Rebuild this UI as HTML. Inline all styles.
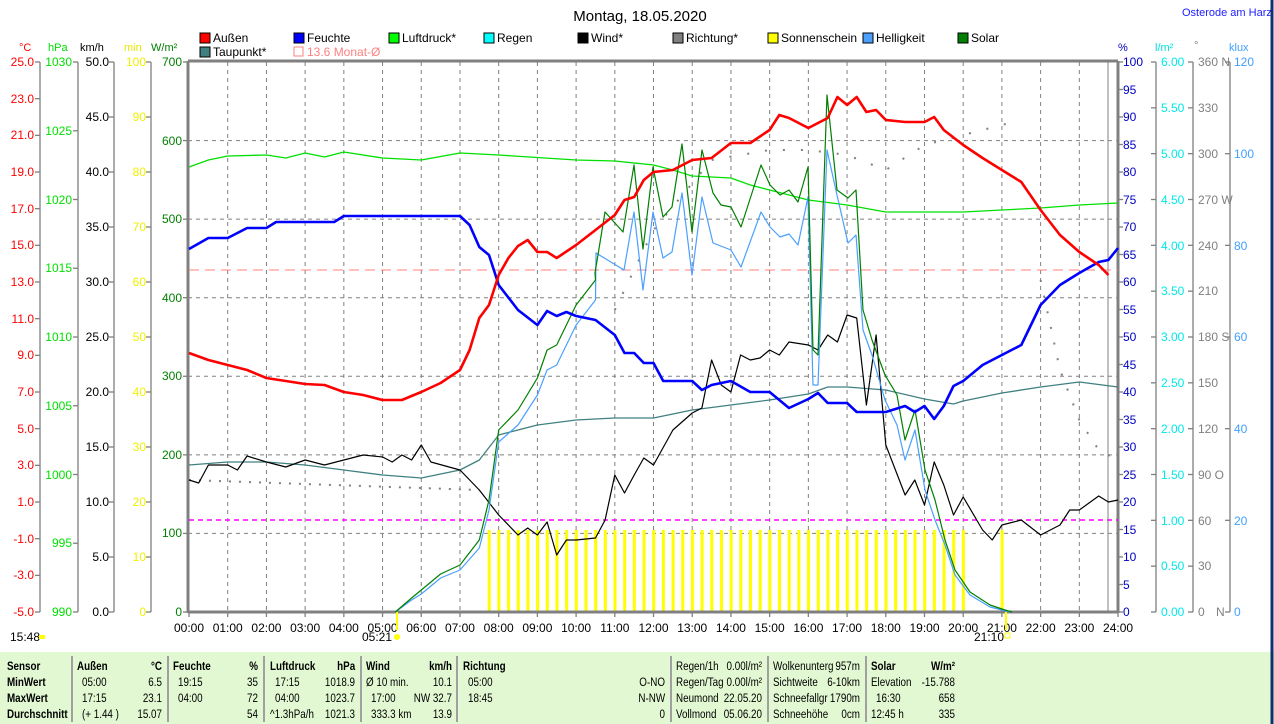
<!DOCTYPE html>
<html><head><meta charset="utf-8">
<style>
html,body{margin:0;padding:0;background:#fff;}
body{width:1274px;height:724px;overflow:hidden;position:relative;font-family:"Liberation Sans",sans-serif;}
svg{position:absolute;left:0;top:0;}
text{font-family:"Liberation Sans",sans-serif;font-size:12px;}
.tb{position:absolute;left:0;top:652px;width:1274px;height:72px;background:#e2f8d2;}
.tt text{font-size:12px;transform-box:fill-box;transform-origin:0% 50%;transform:scaleX(0.82);}
.tt text[text-anchor="end"]{transform-origin:100% 50%;}
</style></head><body>
<div class="tb"></div>
<svg id="s" width="1274" height="724" viewBox="0 0 1274 724">
<g id="grid" stroke="#808080" stroke-dasharray="4,4" stroke-width="1"></g>
<g id="bars" fill="#ffff00"></g>
<text x="640" y="21" text-anchor="middle" style="font-size:15px">Montag, 18.05.2020</text>
<text x="1182" y="16" fill="#2020ff" style="font-size:11px">Osterode am Harz</text>
<g style="font-size:11px">
<rect x="200" y="33" width="10" height="10" fill="#ff0000" stroke="#000"/><text x="213" y="42">Außen</text>
<rect x="294" y="33" width="10" height="10" fill="#0000ff" stroke="#000"/><text x="307" y="42">Feuchte</text>
<rect x="389" y="33" width="10" height="10" fill="#00ff00" stroke="#000"/><text x="402" y="42">Luftdruck*</text>
<rect x="484" y="33" width="10" height="10" fill="#00ffff" stroke="#000"/><text x="497" y="42">Regen</text>
<rect x="578" y="33" width="10" height="10" fill="#000" stroke="#000"/><text x="591" y="42">Wind*</text>
<rect x="673" y="33" width="10" height="10" fill="#808080" stroke="#000"/><text x="686" y="42">Richtung*</text>
<rect x="768" y="33" width="10" height="10" fill="#ffff00" stroke="#000"/><text x="781" y="42">Sonnenschein</text>
<rect x="863" y="33" width="10" height="10" fill="#4aa0ff" stroke="#000"/><text x="876" y="42">Helligkeit</text>
<rect x="958" y="33" width="10" height="10" fill="#008000" stroke="#000"/><text x="971" y="42">Solar</text>
<rect x="200" y="47" width="10" height="10" fill="#408080" stroke="#000"/><text x="213" y="56">Taupunkt*</text>
<rect x="294" y="47" width="9" height="9" fill="none" stroke="#ff8080"/><text x="307" y="56" fill="#ff8080">13.6 Monat-Ø</text>
</g>
<text x="19" y="51" fill="#ff0000" style="font-size:11px">°C</text>
<text x="48" y="51" fill="#00e000" style="font-size:11px">hPa</text>
<text x="80" y="51" style="font-size:11px">km/h</text>
<text x="124" y="51" fill="#e8e800" style="font-size:11px">min</text>
<text x="151" y="51" fill="#008000" style="font-size:11px">W/m²</text>
<text x="1118" y="51" fill="#0000c0" style="font-size:11px">%</text>
<text x="1155" y="51" fill="#00e0e0" style="font-size:11px">l/m²</text>
<text x="1194" y="49" fill="#808080" style="font-size:11px">°</text>
<text x="1229" y="51" fill="#40a0ff" style="font-size:11px">klux</text>
<g id="axes" stroke="#808080" stroke-width="1.3" fill="none"></g>
<g style="font-size:12px" text-anchor="end" fill="#ff0000">
<text x="34" y="66">25.0</text><text x="34" y="103">23.0</text><text x="34" y="139">21.0</text><text x="34" y="176">19.0</text><text x="34" y="213">17.0</text><text x="34" y="249">15.0</text><text x="34" y="286">13.0</text><text x="34" y="323">11.0</text><text x="34" y="359">9.0</text><text x="34" y="396">7.0</text><text x="34" y="433">5.0</text><text x="34" y="469">3.0</text><text x="34" y="506">1.0</text><text x="34" y="543">-1.0</text><text x="34" y="579">-3.0</text><text x="34" y="616">-5.0</text>
</g>
<g text-anchor="end" fill="#00e000">
<text x="72" y="66">1030</text><text x="72" y="135">1025</text><text x="72" y="204">1020</text><text x="72" y="272">1015</text><text x="72" y="341">1010</text><text x="72" y="410">1005</text><text x="72" y="479">1000</text><text x="72" y="547">995</text><text x="72" y="616">990</text>
</g>
<g text-anchor="end" fill="#000">
<text x="109" y="66">50.0</text><text x="109" y="121">45.0</text><text x="109" y="176">40.0</text><text x="109" y="231">35.0</text><text x="109" y="286">30.0</text><text x="109" y="341">25.0</text><text x="109" y="396">20.0</text><text x="109" y="451">15.0</text><text x="109" y="506">10.0</text><text x="109" y="561">5.0</text><text x="109" y="616">0.0</text>
</g>
<g text-anchor="end" fill="#f0f000">
<text x="146" y="66">100</text><text x="146" y="121">90</text><text x="146" y="176">80</text><text x="146" y="231">70</text><text x="146" y="286">60</text><text x="146" y="341">50</text><text x="146" y="396">40</text><text x="146" y="451">30</text><text x="146" y="506">20</text><text x="146" y="561">10</text><text x="146" y="616">0</text>
</g>
<g text-anchor="end" fill="#008000">
<text x="182" y="66">700</text><text x="182" y="145">600</text><text x="182" y="223">500</text><text x="182" y="302">400</text><text x="182" y="380">300</text><text x="182" y="459">200</text><text x="182" y="537">100</text><text x="182" y="616">0</text>
</g>
<g fill="#0000c0">
<text x="1123" y="66">100</text><text x="1123" y="94">95</text><text x="1123" y="121">90</text><text x="1123" y="149">85</text><text x="1123" y="176">80</text><text x="1123" y="204">75</text><text x="1123" y="231">70</text><text x="1123" y="259">65</text><text x="1123" y="286">60</text><text x="1123" y="314">55</text><text x="1123" y="341">50</text><text x="1123" y="369">45</text><text x="1123" y="396">40</text><text x="1123" y="424">35</text><text x="1123" y="451">30</text><text x="1123" y="479">25</text><text x="1123" y="506">20</text><text x="1123" y="534">15</text><text x="1123" y="561">10</text><text x="1123" y="589">5</text><text x="1123" y="616">0</text>
</g>
<g fill="#00e8e8">
<text x="1161" y="66">6.00</text><text x="1161" y="112">5.50</text><text x="1161" y="158">5.00</text><text x="1161" y="204">4.50</text><text x="1161" y="250">4.00</text><text x="1161" y="295">3.50</text><text x="1161" y="341">3.00</text><text x="1161" y="387">2.50</text><text x="1161" y="433">2.00</text><text x="1161" y="479">1.50</text><text x="1161" y="525">1.00</text><text x="1161" y="570">0.50</text><text x="1161" y="616">0.00</text>
</g>
<g fill="#808080">
<text x="1198" y="66">360 N</text><text x="1198" y="112">330</text><text x="1198" y="158">300</text><text x="1198" y="204">270 W</text><text x="1198" y="250">240</text><text x="1198" y="295">210</text><text x="1198" y="341">180 S</text><text x="1198" y="387">150</text><text x="1198" y="433">120</text><text x="1198" y="479">90  O</text><text x="1198" y="525">60</text><text x="1198" y="570">30</text><text x="1198" y="616">0</text><text x="1216" y="616">N</text>
</g>
<g fill="#40a0ff">
<text x="1234" y="66">120</text><text x="1234" y="158">100</text><text x="1234" y="250">80</text><text x="1234" y="341">60</text><text x="1234" y="433">40</text><text x="1234" y="525">20</text><text x="1234" y="616">0</text>
</g>
<g id="xl" text-anchor="middle"></g>
<text x="10" y="641">15:48</text><rect x="39" y="635" width="6" height="4" fill="#ffff00"/>
<text x="362" y="641">05:21</text><circle cx="397" cy="637" r="3" fill="#ffff00"/>
<text x="974" y="641">21:10</text><rect x="1005" y="633" width="5" height="5" fill="none" stroke="#ffff00"/>
<line x1="397" y1="612" x2="397" y2="630" stroke="#ffff00" stroke-width="2"/>
<line x1="1006" y1="612" x2="1006" y2="630" stroke="#ffff00" stroke-width="2"/>
<g id="series" fill="none"></g>
<g stroke="#a0a0a0" stroke-width="2">
<line x1="72" y1="656" x2="72" y2="722"/><line x1="168" y1="656" x2="168" y2="722"/><line x1="264" y1="656" x2="264" y2="722"/><line x1="361" y1="656" x2="361" y2="722"/><line x1="457" y1="656" x2="457" y2="722"/><line x1="671" y1="656" x2="671" y2="722"/><line x1="768" y1="656" x2="768" y2="722"/><line x1="866" y1="656" x2="866" y2="722"/>
</g>
<line x1="1272" y1="0" x2="1272" y2="724" stroke="#103070" stroke-width="3"/>
<g class="tt">
<g style="font-weight:bold">
<text x="7" y="670">Sensor</text><text x="7" y="686">MinWert</text><text x="7" y="702">MaxWert</text><text x="7" y="718">Durchschnitt</text>
<text x="77" y="670">Außen</text><text x="162" y="670" text-anchor="end">°C</text>
<text x="173" y="670">Feuchte</text><text x="258" y="670" text-anchor="end">%</text>
<text x="270" y="670">Luftdruck</text><text x="355" y="670" text-anchor="end">hPa</text>
<text x="366" y="670">Wind</text><text x="452" y="670" text-anchor="end">km/h</text>
<text x="463" y="670">Richtung</text>
<text x="871" y="670">Solar</text><text x="955" y="670" text-anchor="end">W/m²</text>
</g>
<text x="82" y="686">05:00</text><text x="162" y="686" text-anchor="end">6.5</text>
<text x="82" y="702">17:15</text><text x="162" y="702" text-anchor="end">23.1</text>
<text x="82" y="718">(+ 1.44 )</text><text x="162" y="718" text-anchor="end">15.07</text>
<text x="178" y="686">19:15</text><text x="258" y="686" text-anchor="end">35</text>
<text x="178" y="702">04:00</text><text x="258" y="702" text-anchor="end">72</text>
<text x="258" y="718" text-anchor="end">54</text>
<text x="275" y="686">17:15</text><text x="355" y="686" text-anchor="end">1018.9</text>
<text x="275" y="702">04:00</text><text x="355" y="702" text-anchor="end">1023.7</text>
<text x="270" y="718">^1.3hPa/h</text><text x="355" y="718" text-anchor="end">1021.3</text>
<text x="366" y="686">Ø 10 min.</text><text x="452" y="686" text-anchor="end">10.1</text>
<text x="371" y="702">17:00</text><text x="452" y="702" text-anchor="end">NW 32.7</text>
<text x="371" y="718">333.3 km</text><text x="452" y="718" text-anchor="end">13.9</text>
<text x="468" y="686">05:00</text><text x="665" y="686" text-anchor="end">O-NO</text>
<text x="468" y="702">18:45</text><text x="665" y="702" text-anchor="end">N-NW</text>
<text x="665" y="718" text-anchor="end">0</text>
<text x="676" y="670">Regen/1h</text><text x="762" y="670" text-anchor="end">0.00l/m²</text>
<text x="676" y="686">Regen/Tag</text><text x="762" y="686" text-anchor="end">0.00l/m²</text>
<text x="676" y="702">Neumond</text><text x="762" y="702" text-anchor="end">22.05.20</text>
<text x="676" y="718">Vollmond</text><text x="762" y="718" text-anchor="end">05.06.20</text>
<text x="773" y="670">Wolkenunterg</text><text x="860" y="670" text-anchor="end">957m</text>
<text x="773" y="686">Sichtweite</text><text x="860" y="686" text-anchor="end">6-10km</text>
<text x="773" y="702">Schneefallgr</text><text x="860" y="702" text-anchor="end">1790m</text>
<text x="773" y="718">Schneehöhe</text><text x="860" y="718" text-anchor="end">0cm</text>
<text x="871" y="686">Elevation</text><text x="955" y="686" text-anchor="end">-15.788</text>
<text x="876" y="702">16:30</text><text x="955" y="702" text-anchor="end">658</text>
<text x="871" y="718">12:45 h</text><text x="955" y="718" text-anchor="end">335</text>
</g>
</svg>
<script>
var NS="http://www.w3.org/2000/svg";
function X(h){return h>30?h:189+38.71*h;}
function el(p,t,a){var e=document.createElementNS(NS,t);for(var k in a)e.setAttribute(k,a[k]);p.appendChild(e);return e;}
var g=document.getElementById('grid');
for(var i=1;i<24;i++){var x=X(i);el(g,'line',{x1:x,y1:62,x2:x,y2:612});}
[140.6,219.1,297.7,376.3,454.9,533.4].forEach(function(y){el(g,'line',{x1:188,y1:y,x2:1118,y2:y});});
var xl=document.getElementById('xl');
for(var i=0;i<=24;i++){var t=el(xl,'text',{x:X(i),y:632});t.textContent=(i<10?'0':'')+i+':00';}
var ax=document.getElementById('axes');
function axis(x,top,step,n,dir){el(ax,'line',{x1:x,y1:62,x2:x,y2:612});for(var i=0;i<n;i++){var y=62+i*step;el(ax,'line',{x1:x,y1:y,x2:x+dir*5,y2:y});}}
axis(40,62,36.667,16,-1);axis(78,62,68.75,9,-1);axis(114,62,55,11,-1);axis(151,62,55,11,-1);
axis(1118,62,27.5,21,1);axis(1156,62,45.833,13,-1);axis(1193,62,45.833,13,-1);axis(1230,62,91.667,7,-1);
for(var i=0;i<8;i++){var y=62+i*78.57;el(ax,'line',{x1:183,y1:y,x2:188,y2:y});}
el(ax,'line',{x1:188,y1:61,x2:1118,y2:61,'stroke-width':3});
el(ax,'line',{x1:188,y1:61,x2:188,y2:613,'stroke-width':3});
el(ax,'line',{x1:188,y1:612,x2:1118,y2:612,'stroke-width':3});
el(ax,'line',{x1:1118,y1:61,x2:1118,y2:613,'stroke-width':3});
el(ax,'line',{x1:1108,y1:61,x2:1108,y2:612,'stroke-width':1});
for(var i=0;i<=24;i++){el(ax,'line',{x1:X(i),y1:612,x2:X(i),y2:617});}
var b=document.getElementById('bars');
for(var h=7.75;h<=20.01;h+=0.25){el(b,'rect',{x:X(h)-1.3,y:530,width:3,height:82});}
el(b,'rect',{x:X(21)-1.3,y:530,width:3,height:82});
var S=document.getElementById('series');
function line(pts,c,w,extra){var s=pts.map(function(p){return X(p[0]).toFixed(1)+','+p[1];}).join(' ');var a={points:s,stroke:c,'stroke-width':w,'stroke-linejoin':'round'};for(var k in extra)a[k]=extra[k];el(S,'polyline',a);}
line([[0,270],[24,270]],'#ff8080',1,{'stroke-dasharray':'10,6'});
line([[0,520],[24,520]],'#ff00ff',1.5,{'stroke-dasharray':'5,4'});
line([[0,480],[7.5,490]],'#808080',2,{'stroke-dasharray':'2,8'});
line([[11,310],[12,230],[13.5,160],[15,150],[16,150],[17,155],[18,170],[19,145],[20,135],[21,125],[21.5,120]],'#808080',2,{'stroke-dasharray':'2,16'});
line([[22,280],[22.5,370],[23,420],[23.5,450],[24,460]],'#808080',2,{'stroke-dasharray':'2,14'});
line([[0,465],[1,462],[2,462],[3,465],[4,470],[5,475],[6,478],[7,470],[7.5,460],[8,435],[9,425],[10,420],[11,418],[12,418],[13,410],[14,405],[15,400],[16,394],[16.5,387],[17,387],[18,390],[19,399],[19.75,404],[20,401],[21,393],[22,387],[23,382],[24,387]],'#408080',1.3);
line([[0,167],[0.5,160],[1,156],[2,155],[2.5,158],[3,153],[3.5,157],[4,152],[5,158],[6,160],[7,153],[8,155],[10,160],[11,161],[12,165],[12.5,170],[13,176],[14,178],[14.5,185],[15,190],[16,200],[17,205],[18,212],[19,212],[20,212],[21,210],[22,208],[23,205],[24,203]],'#00e000',1.3);
line([[0,480],[0.25,483],[0.5,465],[1,465],[1.25,470],[1.5,456],[2,462],[2.5,467],[3,460],[3.5,465],[4,460],[4.5,455],[5,457],[5.25,462],[5.5,455],[5.75,460],[6,445],[6.25,462],[7,470],[7.5,490],[8,515],[8.5,535],[8.75,528],[9,535],[9.25,522],[9.5,555],[9.75,540],[10,540],[10.5,538],[10.75,520],[11,475],[11.25,493],[11.5,475],[11.75,458],[12,465],[12.5,430],[13,413],[13.25,408],[13.5,360],[13.75,385],[14,392],[14.25,355],[14.5,360],[14.75,358],[15,350],[15.25,355],[15.5,342],[16,345],[16.25,350],[16.5,335],[16.75,342],[17,315],[17.25,318],[17.5,405],[17.75,335],[18,445],[18.5,495],[18.75,480],[19,505],[19.25,462],[19.5,485],[19.75,515],[20,497],[20.5,530],[20.75,540],[21,525],[21.5,520],[22,535],[22.5,525],[22.75,510],[23,510],[23.5,496],[23.75,502],[24,500]],'#000',1.2);
var sol=[[5.33,612],[5.75,598],[6,590],[6.5,574],[7,565],[7.5,540],[7.75,500],[8,430],[8.5,410],[9,378],[9.25,350],[9.5,345],[10,305],[10.5,280],[595,273],[605,212],[623,232],[634,165],[643,249],[653,167],[663,217],[672,207],[682,144],[692,232],[702,150],[713,193],[721,205],[731,207],[741,227],[761,165],[770,185],[780,195],[789,190],[798,202],[808,167],[813,350],[818,355],[827,95],[837,190],[848,198],[856,190],[863,310],[872,340],[885,375],[897,395],[905,440],[915,410],[925,470],[935,500],[945,540],[955,570],[970,592],[990,605],[1005,610],[1012,612]];
var hel=[[5.33,612],[5.75,600],[6,594],[6.5,578],[7,570],[7.5,548],[7.75,510],[8,442],[8.5,425],[9,395],[9.25,370],[9.5,365],[10,325],[10.5,300],[596,253],[624,270],[634,212],[643,290],[653,212],[663,258],[672,252],[682,193],[692,275],[702,197],[713,243],[731,250],[741,267],[761,212],[770,227],[780,237],[789,234],[798,245],[808,197],[813,385],[818,385],[827,150],[837,195],[848,243],[856,235],[863,330],[872,355],[885,400],[897,425],[905,460],[915,430],[925,490],[935,520],[945,545],[955,575],[970,595],[990,607],[1010,612]];
line(hel,'#4aa0ff',1.2);
line(sol,'#008000',1.2);
line([[0,249],[0.5,238],[1,238],[1.5,228],[2,228],[2.25,222],[3,222],[3.75,222],[4,216],[5,216],[6,216],[7,216],[7.25,225],[7.5,247],[7.75,255],[8,285],[8.5,310],[9,325],[9.25,311],[9.5,316],[9.75,312],[10,316],[10.5,320],[11,335],[11.25,353],[11.5,353],[11.75,363],[12,363],[12.25,381],[12.5,381],[13,381],[13.25,390],[13.5,385],[14,381],[14.5,392],[15,392],[15.5,408],[16,399],[16.25,393],[16.5,403],[17,403],[17.25,412],[18,412],[18.5,406],[18.75,412],[19,406],[19.25,419],[19.5,406],[19.75,386],[20,381],[20.5,365],[21,355],[21.5,345],[22,305],[22.5,285],[23,273],[23.5,262],[23.75,260],[24,248]],'#0000ff',2.6);
line([[0,353],[0.5,360],[1,365],[1.5,370],[2,378],[2.5,381],[3,384],[3.5,385],[4,392],[4.5,395],[5,400],[5.5,400],[6,392],[6.5,383],[7,370],[7.25,350],[7.5,318],[7.75,305],[8,275],[8.25,258],[8.5,246],[8.75,240],[9,252],[9.25,252],[9.5,258],[10,245],[10.5,230],[11,215],[11.25,200],[11.5,197],[11.75,180],[12,172],[12.5,170],[13,160],[13.5,158],[14,143],[14.5,143],[15,130],[15.25,115],[15.5,118],[16,128],[16.5,118],[16.75,97],[17,105],[17.25,97],[17.5,112],[17.75,110],[18,120],[18.5,122],[19,122],[19.25,117],[19.5,130],[20,145],[20.5,158],[21,170],[21.5,182],[22,210],[22.5,235],[23,252],[23.5,265],[23.75,275]],'#ff0000',2.6);
</script>
</body></html>
